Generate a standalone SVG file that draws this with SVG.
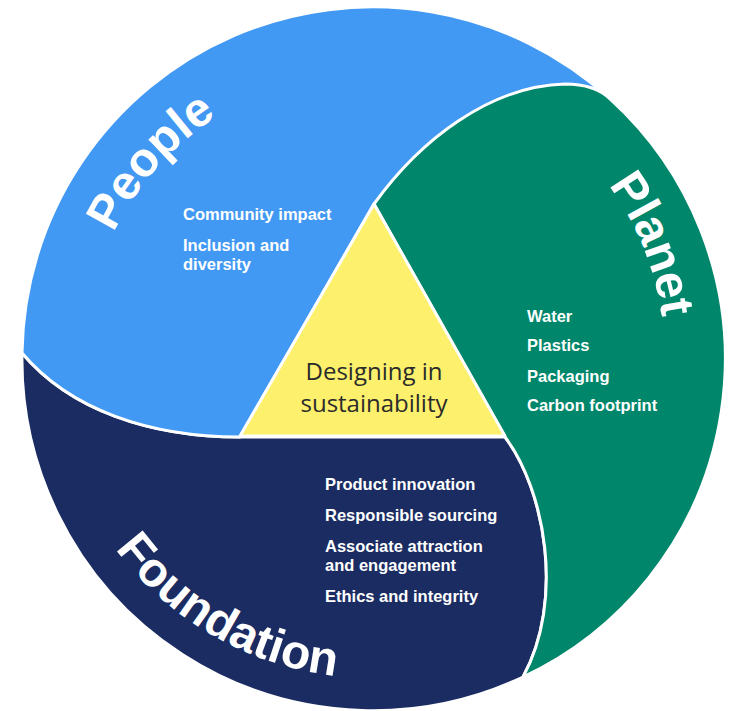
<svg xmlns="http://www.w3.org/2000/svg" xmlns:xlink="http://www.w3.org/1999/xlink" width="731" height="711" viewBox="0 0 731 711">
<style>
.sep{stroke:#fff;stroke-width:3;stroke-linejoin:round}
.big{font-family:"Liberation Sans",Arial,sans-serif;font-weight:bold;font-size:48px;fill:#fff}
.item{font-family:"Liberation Sans",Arial,sans-serif;font-weight:bold;font-size:16.5px;fill:#fff}
.core{font-family:"Open Sans","Liberation Sans",sans-serif;font-size:24px;fill:#2b2b2b;text-anchor:middle}
</style>
<defs>
<path id="arcPeople" d="M85.1,350 A287,287 0 0 1 330.1,74.1"/>
<path id="arcPlanet" d="M509.1,99 A293,293 0 0 1 650.8,448.1"/>
<path id="arcFoundation" d="M63,441.1 A320,320 0 0 0 455.1,667"/>
</defs>
<rect width="731" height="711" fill="#fff"/>
<g id="foundation">
<path class="sep" fill="#1b2c62" d="M22,353 C70,410 150,437 240,437 L505,437 C545,490 565,600 523,677 A351,351 0 0 1 22,353 Z"/>
<text class="big"><textPath xlink:href="#arcFoundation" href="#arcFoundation" startOffset="50%" text-anchor="middle">Foundation</textPath></text>
<text class="item" x="325" y="490">Product innovation</text>
<text class="item" x="325" y="521">Responsible sourcing</text>
<text class="item" x="325" y="552">Associate attraction</text>
<text class="item" x="325" y="571">and engagement</text>
<text class="item" x="325" y="602">Ethics and integrity</text>
</g>
<g id="people">
<path class="sep" fill="#4299f4" d="M22,353 A351,351 0 0 1 610,99 L374,204 L240,437 C150,437 70,410 22,353 Z"/>
<text class="big"><textPath xlink:href="#arcPeople" href="#arcPeople" startOffset="50%" text-anchor="middle">People</textPath></text>
<text class="item" x="183" y="220">Community impact</text>
<text class="item" x="183" y="251">Inclusion and</text>
<text class="item" x="183" y="270">diversity</text>
</g>
<g id="planet">
<path class="sep" fill="#00866b" d="M374,204 C420,140 490,86 565,84 Q595,84 610,99 A351,351 0 0 1 523,677 C565,600 545,490 505,437 Z"/>
<text class="big"><textPath xlink:href="#arcPlanet" href="#arcPlanet" startOffset="50%" text-anchor="middle">Planet</textPath></text>
<text class="item" x="527" y="322">Water</text>
<text class="item" x="527" y="351">Plastics</text>
<text class="item" x="527" y="382">Packaging</text>
<text class="item" x="527" y="411">Carbon footprint</text>
</g>
<g id="core">
<path class="sep" fill="#fdf06c" d="M374,204 L240,436 L505,436 Z"/>
<text class="core" x="374" y="380">Designing in</text>
<text class="core" x="374" y="412">sustainability</text>
</g>
</svg>
